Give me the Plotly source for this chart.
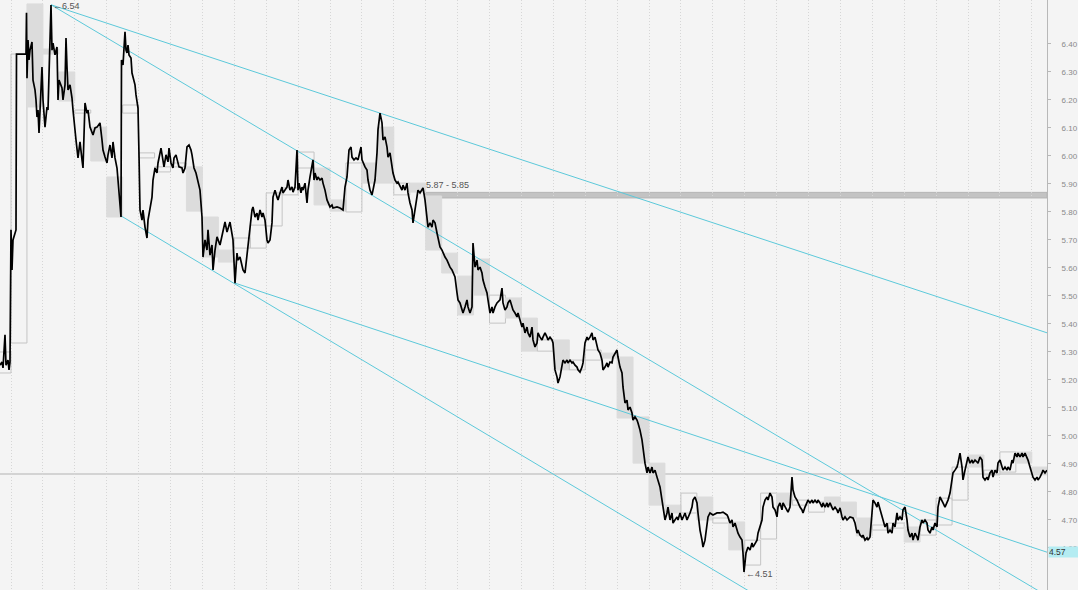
import plotly.graph_objects as go

# ---------------- data (time in minutes from start of window, price) ----------------
LINE_T = [0, 2, 3, 5, 6, 8, 9, 10, 11, 12, 13, 15, 16, 16.5, 26, 26.5, 27, 28, 29, 30, 32, 33, 35, 36, 37, 38, 39,
          42, 43, 45, 47, 48, 50, 51, 52, 53, 55, 57, 58, 59, 62, 63, 65, 66, 67, 68, 70, 72, 73, 75, 76, 78, 80,
          82, 83, 85, 87, 88, 90, 93, 95, 97, 100, 102, 103, 105, 107, 108, 110, 112, 113, 115, 117, 118, 119,
          120, 121, 121.5, 123, 125, 126, 127, 128, 129, 131, 132, 134, 135, 136, 137, 138, 139, 139.5, 140,
          142, 143, 145, 147, 148, 150, 152, 153, 155, 157, 158, 161, 163, 164, 166, 168, 169, 171, 173, 174,
          176, 178, 179, 182, 183, 185, 187, 189, 191, 192, 194, 196, 198, 200, 202, 203, 205, 207, 208, 210,
          212, 213, 215, 217, 220, 222, 225, 227, 230, 233, 235, 237, 238, 240, 242, 243, 245, 247, 248, 250,
          252, 253, 255, 257, 258, 260, 262, 263, 265, 267, 268, 270, 272, 273, 275, 277, 278, 280, 282, 283,
          285, 287, 288, 290, 292, 293, 295, 297, 298, 299, 301, 302, 303, 305, 307, 308, 310, 312, 313, 314,
          315, 317, 318, 320, 322, 323, 325, 327, 328, 330, 332, 333, 337, 340, 343, 345, 347, 348, 349, 351,
          352, 354, 356, 358, 361, 362, 363, 365, 367, 368, 370, 372, 373, 375, 377, 378, 380, 382, 383, 385,
          387, 388, 390, 392, 393, 395, 397, 398, 400, 402, 403, 405, 407, 408, 410, 412, 413, 415, 417, 418,
          420, 422, 423, 425, 427, 428, 430, 432, 433, 435, 437, 438, 440, 442, 443, 445, 447, 448, 450, 452,
          453, 455, 457, 458, 460, 462, 463, 465, 467, 468, 470, 472, 473, 475, 477, 478, 480, 482, 483, 485,
          487, 488, 490, 492, 493, 495, 497, 500, 502, 503, 505, 507, 508, 510, 512, 513, 515, 517, 518, 520,
          522, 523, 525, 527, 528, 530, 532, 533, 535, 537, 538, 540, 542, 543, 545, 547, 548, 550, 552, 553,
          555, 557, 558, 560, 562, 563, 565, 567, 568, 570, 572, 573, 575, 577, 578, 580, 582, 583, 585, 587,
          588, 590, 592, 593, 595, 597, 598, 600, 602, 603, 605, 607, 608, 610, 612, 613, 615, 617, 618, 620,
          622, 623, 625, 627, 628, 630, 632, 633, 635, 637, 638, 640, 642, 643, 645, 647, 648, 650, 652, 653,
          655, 657, 658, 660, 662, 663, 665, 667, 668, 670, 672, 673, 675, 677, 678, 680, 682, 683, 685, 687,
          688, 690, 692, 693, 695, 697, 698, 700, 702, 703, 705, 707, 708, 710, 713, 717, 720, 723, 727, 728,
          730, 732, 733, 735, 737, 738, 740, 742, 743, 744, 746, 747, 748, 750, 752, 753, 755, 757, 758, 760,
          762, 763, 765, 767, 768, 770, 772, 773, 775, 777, 778, 780, 782, 783, 785, 787, 788, 790, 792, 793,
          795, 797, 798, 800, 802, 803, 805, 807, 808, 810, 812, 813, 815, 817, 818, 820, 822, 823, 825, 827,
          828, 830, 832, 833, 835, 837, 838, 840, 842, 843, 845, 847, 850, 853, 855, 857, 858, 860, 862, 863,
          865, 867, 868, 870, 872, 873, 875, 877, 878, 880, 882, 883, 885, 887, 888, 890, 892, 893, 895, 897,
          898, 900, 902, 903, 905, 907, 908, 910, 912, 913, 915, 917, 918, 920, 922, 923, 925, 927, 928, 930,
          932, 933, 935, 937, 938, 940, 942, 943, 945, 947, 948, 950, 952, 953, 955, 957, 958, 960, 962, 963,
          965, 967, 968, 970, 972, 973, 975, 977, 978, 980, 982, 983, 985, 987, 988, 990, 992, 993, 995, 997,
          998, 1000, 1002, 1003, 1005, 1007, 1008, 1010, 1012, 1013, 1015, 1017, 1018, 1020, 1022, 1023, 1025,
          1027, 1028, 1030, 1032, 1033, 1035, 1037, 1038, 1040, 1042, 1043, 1045, 1047]

LINE_P = [5.253, 5.264, 5.243, 5.361, 5.253, 5.271, 5.236, 5.264, 5.736, 5.593, 5.700, 5.725, 5.736, 6.364, 6.364,
          6.511, 6.278, 6.414, 6.343, 6.378, 6.407, 6.271, 6.236, 6.200, 6.139, 6.164, 6.082,
          6.318, 6.200, 6.103, 6.175, 6.164, 6.414, 6.539, 6.378, 6.403, 6.361, 6.389, 6.200, 6.271, 6.243, 6.200,
          6.254, 6.421, 6.318, 6.236, 6.254, 6.207, 6.164, 6.082, 6.057, 5.993, 6.050,
          5.986, 5.957, 6.189, 6.153, 6.164, 6.103, 6.075, 6.100, 6.103, 6.118, 6.057, 6.021, 5.996, 5.975, 6.004,
          6.039, 5.993, 6.050, 5.993, 5.957, 5.914, 5.878,
          5.818, 5.782, 6.343, 6.325, 6.443, 6.378, 6.368, 6.396, 6.361, 6.350, 6.296, 6.271, 6.254, 6.218, 6.182,
          6.171, 6.004, 5.825, 5.807,
          5.771, 5.807, 5.746, 5.707, 5.771, 5.818, 5.853, 5.914, 5.957, 5.939, 5.975, 6.028, 5.986, 5.961, 6.004,
          5.979, 6.028, 5.975, 5.957, 5.993,
          6.004, 5.968, 5.961, 5.957, 5.939, 5.957, 6.032, 6.039, 6.021, 6.004, 5.957, 5.939, 5.903, 5.878, 5.782,
          5.639, 5.700, 5.664, 5.736, 5.646,
          5.682, 5.593, 5.664, 5.711, 5.682, 5.718, 5.764, 5.728, 5.764, 5.700, 5.546, 5.653, 5.628, 5.639, 5.603,
          5.593, 5.582, 5.653, 5.675, 5.746,
          5.807, 5.818, 5.782, 5.796, 5.771, 5.807, 5.782, 5.796, 5.771, 5.700, 5.689, 5.700, 5.761, 5.853, 5.878,
          5.853, 5.843, 5.868, 5.889, 5.868,
          5.878, 5.889, 5.914, 5.878, 5.889, 5.871, 5.889, 6.021, 5.878, 5.903, 5.868, 5.889, 5.878, 5.903, 5.832,
          5.878, 5.925, 5.961, 5.986, 5.914,
          5.939, 5.914, 5.925, 5.914, 5.921, 5.903, 5.878, 5.843, 5.832, 5.818, 5.825, 5.814, 5.818, 5.814, 5.807,
          5.889, 5.925, 5.975, 6.021, 6.032,
          5.996, 5.986, 5.993, 5.986, 6.032, 5.986, 5.975, 5.961, 5.950, 5.914, 5.878, 5.861, 5.878, 5.914, 6.011,
          6.093, 6.153, 6.118, 6.057, 6.068,
          6.032, 5.996, 6.011, 5.961, 5.939, 5.914, 5.903, 5.907, 5.889, 5.878, 5.896, 5.878, 5.903, 5.868, 5.832,
          5.807, 5.761, 5.807, 5.868, 5.878,
          5.868, 5.878, 5.886, 5.843, 5.761, 5.746, 5.761, 5.746, 5.771, 5.761, 5.725, 5.711, 5.675, 5.664, 5.653,
          5.639, 5.628, 5.618, 5.603, 5.593,
          5.582, 5.568, 5.511, 5.486, 5.475, 5.450, 5.439, 5.461, 5.486, 5.461, 5.439, 5.461, 5.689, 5.603, 5.628,
          5.593, 5.603, 5.582, 5.557, 5.532,
          5.511, 5.486, 5.439, 5.461, 5.439, 5.461, 5.475, 5.486, 5.528, 5.475, 5.450, 5.461, 5.475, 5.486, 5.461,
          5.450, 5.439, 5.425, 5.439, 5.414,
          5.389, 5.403, 5.368, 5.389, 5.368, 5.353, 5.389, 5.343, 5.318, 5.332, 5.368, 5.353, 5.343, 5.353, 5.368,
          5.353, 5.343, 5.353, 5.343, 5.332,
          5.236, 5.211, 5.189, 5.211, 5.246, 5.271, 5.261, 5.271, 5.261, 5.271, 5.261, 5.264, 5.253, 5.246, 5.236,
          5.228, 5.246, 5.261, 5.332, 5.353,
          5.343, 5.353, 5.368, 5.343, 5.353, 5.318, 5.307, 5.296, 5.271, 5.236, 5.246, 5.261, 5.246, 5.264, 5.261,
          5.282, 5.296, 5.307, 5.282, 5.246,
          5.225, 5.175, 5.118, 5.128, 5.093, 5.103, 5.082, 5.057, 5.068, 5.057, 5.046, 5.021, 4.986, 4.950, 4.903,
          4.868, 4.889, 4.868, 4.889, 4.868,
          4.878, 4.853, 4.843, 4.818, 4.771, 4.746, 4.700, 4.725, 4.746, 4.700, 4.725, 4.689, 4.700, 4.711, 4.700,
          4.725, 4.700, 4.711, 4.725, 4.700,
          4.711, 4.725, 4.746, 4.771, 4.782, 4.761, 4.725, 4.664, 4.628, 4.603, 4.628, 4.675, 4.711, 4.725, 4.718,
          4.725, 4.725, 4.728, 4.718, 4.711,
          4.689, 4.700, 4.675, 4.689, 4.664, 4.653, 4.639, 4.628, 4.582, 4.514, 4.582, 4.593, 4.603, 4.593, 4.618,
          4.603, 4.618, 4.628, 4.653, 4.675,
          4.700, 4.746, 4.771, 4.782, 4.771, 4.796, 4.782, 4.746, 4.736, 4.711, 4.746, 4.761, 4.736, 4.761, 4.746,
          4.736, 4.728, 4.746, 4.853, 4.807,
          4.782, 4.771, 4.761, 4.746, 4.736, 4.725, 4.746, 4.761, 4.771, 4.761, 4.771, 4.761, 4.771, 4.761, 4.771,
          4.761, 4.746, 4.761, 4.746, 4.761,
          4.746, 4.761, 4.746, 4.736, 4.746, 4.736, 4.725, 4.743, 4.711, 4.700, 4.711, 4.700, 4.711, 4.707, 4.689,
          4.653, 4.664, 4.646, 4.639, 4.646,
          4.628, 4.636, 4.628, 4.639, 4.725, 4.771, 4.761, 4.746, 4.764, 4.736, 4.711, 4.700, 4.675, 4.689, 4.653,
          4.664, 4.653, 4.689, 4.675, 4.725,
          4.700, 4.711, 4.700, 4.736, 4.746, 4.700, 4.664, 4.639, 4.653, 4.628, 4.653, 4.639, 4.628, 4.675, 4.700,
          4.689, 4.700, 4.689, 4.664, 4.653,
          4.675, 4.664, 4.689, 4.675, 4.746, 4.782, 4.771, 4.761, 4.746, 4.761, 4.771, 4.796, 4.843, 4.868, 4.878,
          4.889, 4.903, 4.939, 4.889, 4.843,
          4.878, 4.903, 4.925, 4.903, 4.914, 4.903, 4.914, 4.907, 4.903, 4.925, 4.914, 4.853, 4.843, 4.853, 4.843,
          4.868, 4.878, 4.853, 4.878, 4.868,
          4.903, 4.914, 4.889, 4.878, 4.889, 4.878, 4.889, 4.878, 4.914, 4.903, 4.939, 4.925, 4.939, 4.925, 4.939,
          4.925, 4.939,
          4.925, 4.914, 4.889, 4.868, 4.853, 4.843, 4.853, 4.843, 4.853, 4.868, 4.878, 4.868, 4.878]

# higher-timeframe candle bodies (open / close), one per period
CANDLE_START = -4.95
CANDLE_MINUTES = 15.95
CANDLE_OPEN = [5.225, 5.332, 6.543, 6.382, 6.300, 6.153, 6.103, 5.925, 6.153, 5.993, 5.943, 5.961, 5.961, 5.782,
               5.664, 5.671, 5.671, 5.750, 5.861, 5.957, 5.957, 5.843, 5.800, 5.975, 6.103, 5.861, 5.903, 5.857,
               5.653, 5.571, 5.632, 5.403, 5.493, 5.421, 5.303, 5.343, 5.236, 5.271, 5.296, 5.282, 5.068, 4.903,
               4.753, 4.725, 4.782, 4.689, 4.693, 4.539, 4.632, 4.796, 4.753, 4.728, 4.782, 4.764, 4.707, 4.664,
               4.671, 4.675, 4.646, 4.682, 4.771, 4.932, 4.861, 4.871, 4.943, 4.889]
CANDLE_CLOSE = [5.300, 6.364, 6.175, 6.364, 6.196, 6.164, 5.982, 5.782, 6.182, 6.011, 5.961, 5.975, 5.803, 5.639,
                5.621, 5.707, 5.753, 5.868, 5.886, 6.014, 5.825, 5.803, 5.975, 5.903, 5.903, 5.903, 5.871, 5.664,
                5.582, 5.432, 5.503, 5.503, 5.421, 5.303, 5.343, 5.236, 5.271, 5.307, 5.278, 5.064, 4.903, 4.753,
                4.725, 4.796, 4.700, 4.707, 4.593, 4.628, 4.796, 4.753, 4.771, 4.764, 4.746, 4.707, 4.643, 4.682,
                4.689, 4.621, 4.700, 4.778, 4.889, 4.889, 4.878, 4.943, 4.903, 4.861]

# trendlines: two anchor points (time, price), extended to the latest time
TRENDLINES = [
    (51, 6.540, 380, 6.153),
    (51, 6.540, 620, 5.334),
    (121, 5.786, 600, 4.764),
    (235, 5.546, 600, 5.114),
]
TREND_LABEL = "4.57"

HIGH_T, HIGH_P, HIGH_LABEL = 51, 6.54, "6.54"
LOW_T, LOW_P, LOW_LABEL = 744, 4.51, "4.51"
ZONE_START, ZONE_LOW, ZONE_HIGH, ZONE_LABEL = 425, 5.85, 5.87, "5.87 - 5.85"
LAST_PRICE = 4.864

Y_TICKS = [4.60, 4.70, 4.80, 4.90, 5.00, 5.10, 5.20, 5.30, 5.40, 5.50, 5.60, 5.70, 5.80, 5.90, 6.00, 6.10,
           6.20, 6.30, 6.40]

# ---------------- figure ----------------
BG = "#f4f4f4"
CYAN = "#5cc9da"
T_END = LINE_T[-1]

fig = go.Figure()

centers, bases, heights, fills, edges = [], [], [], [], []
for k, (o, c) in enumerate(zip(CANDLE_OPEN, CANDLE_CLOSE)):
    centers.append(CANDLE_START + (k + 0.5) * CANDLE_MINUTES)
    bases.append(min(o, c))
    heights.append(abs(c - o))
    up = c >= o
    fills.append("rgba(0,0,0,0)" if up else "#dcdcdc")
    edges.append("#c4c4c4" if up else "#dcdcdc")

fig.add_trace(go.Bar(x=centers, y=heights, base=bases, width=CANDLE_MINUTES,
                     marker=dict(color=fills, line=dict(color=edges, width=1)),
                     hoverinfo="skip"))

for (t1, p1, t2, p2) in TRENDLINES:
    slope = (p2 - p1) / (t2 - t1)
    fig.add_trace(go.Scatter(x=[t1, T_END], y=[p1, p1 + slope * (T_END - t1)], mode="lines",
                             line=dict(color=CYAN, width=1), hoverinfo="skip"))

fig.add_trace(go.Scatter(x=LINE_T, y=LINE_P, mode="lines",
                         line=dict(color="#000000", width=1.7), hoverinfo="skip"))

# resistance zone
fig.add_shape(type="rect", xref="x", yref="y", x0=ZONE_START, x1=T_END, y0=ZONE_LOW, y1=ZONE_HIGH,
              fillcolor="#c3c3c3", line=dict(color="#b5b5b5", width=1), layer="below")
# last price line
fig.add_shape(type="line", xref="paper", yref="y", x0=0, x1=1, y0=LAST_PRICE, y1=LAST_PRICE,
              line=dict(color="#c8c8c8", width=1.5), layer="below")

lab_font = dict(family="Liberation Sans, Arial, sans-serif", size=9, color="#555555")
fig.add_annotation(x=HIGH_T, y=HIGH_P, text="←" + HIGH_LABEL, showarrow=False, xanchor="left",
                   yanchor="middle", font=lab_font, yshift=-1)
fig.add_annotation(x=LOW_T, y=LOW_P, text="←" + LOW_LABEL, showarrow=False, xanchor="left",
                   yanchor="middle", font=lab_font, yshift=-1)
fig.add_annotation(x=ZONE_START, y=ZONE_HIGH, text=ZONE_LABEL, showarrow=False, xanchor="left",
                   yanchor="bottom", font=lab_font, xshift=-1)

t1, p1, t2, p2 = TRENDLINES[3]
end_val = p1 + (p2 - p1) / (t2 - t1) * (T_END - t1)
fig.add_annotation(xref="paper", x=1, y=end_val, text=TREND_LABEL, showarrow=False, xanchor="left",
                   yanchor="middle", align="left", width=29, height=10, borderpad=0, xshift=1,
                   bgcolor="#b4ecf2", font=dict(family="Liberation Sans, Arial, sans-serif", size=8.5,
                                                color="#333333"))

fig.update_layout(
    width=1078, height=590,
    margin=dict(l=0, r=31, t=0, b=0, autoexpand=False),
    paper_bgcolor=BG, plot_bgcolor=BG,
    showlegend=False, barmode="overlay",
    xaxis=dict(range=[0, T_END], showgrid=True, gridcolor="#d6d6d6", griddash="1px,2px", gridwidth=1,
               tick0=CANDLE_START + CANDLE_MINUTES, dtick=2 * CANDLE_MINUTES,
               showticklabels=False, zeroline=False, showline=False, ticks=""),
    yaxis=dict(side="right", range=[4.4499, 6.557], tickvals=Y_TICKS, tickformat=".2f",
               showgrid=False, zeroline=False, showline=True, linecolor="#b8b8b8", linewidth=1,
               ticks="outside", ticklen=3, tickcolor="#b8b8b8", ticklabelstandoff=9,
               tickfont=dict(family="Liberation Sans, Arial, sans-serif", size=8, color="#8a8a8a")),
)

fig.write_html("out.html", config={"displayModeBar": False},
               post_script="document.body.style.margin='0';document.body.style.overflow='hidden';")
